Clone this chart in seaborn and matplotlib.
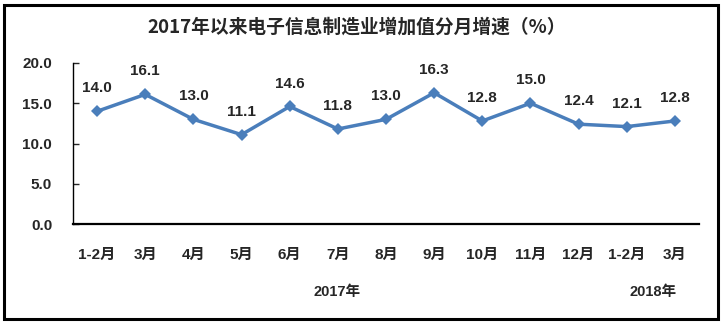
import pandas as pd
import matplotlib
matplotlib.use("Agg")
import matplotlib.pyplot as plt
import seaborn as sns
from matplotlib.patches import Rectangle

months = ["1-2月", "3月", "4月", "5月", "6月", "7月", "8月", "9月",
          "10月", "11月", "12月", "1-2月", "3月"]
growth = [14.0, 16.1, 13.0, 11.1, 14.6, 11.8, 13.0, 16.3, 12.8, 15.0, 12.4, 12.1, 12.8]
years = ["2017年", "2018年"]
yticks = [0, 5, 10, 15, 20]

sns.set_style("white")
plt.rcParams['font.family'] = ['Liberation Sans', 'Noto Sans CJK SC', 'DejaVu Sans']
plt.rcParams['font.weight'] = 'bold'

df = pd.DataFrame({"pos": range(len(months)), "growth": growth})

fig = plt.figure(figsize=(7.24, 3.24), dpi=100)
ax = fig.add_axes([73 / 724, 1 - 224 / 324, (699 - 73) / 724, (224 - 63) / 324])

sns.lineplot(data=df, x="pos", y="growth", ax=ax, color="#4A7EBB",
             linewidth=2.5, marker="D", markersize=6.5, markeredgewidth=0)

for x, v in zip(df["pos"], df["growth"]):
    ax.annotate(f"{v:.1f}", (x, v), xytext=(0, 16.5), textcoords="offset points",
                ha="center", va="center", fontsize=11, fontweight="bold")

ax.set_xlim(-0.5, len(months) - 0.5)
ax.set_ylim(0, 20)
ax.set_xticks(range(len(months)))
ax.set_xticklabels(months, fontsize=11, fontweight="bold")
ax.set_yticks(yticks)
ax.set_yticklabels([f"{t:.1f}" for t in yticks], fontsize=11, fontweight="bold")
ax.tick_params(axis="x", length=0, pad=17)
ax.tick_params(axis="y", direction="in", length=4, width=1, pad=15, left=True)
ax.set_xlabel("")
ax.set_ylabel("")

for s in ["top", "right"]:
    ax.spines[s].set_visible(False)
for s in ["left", "bottom"]:
    ax.spines[s].set_color("black")
    ax.spines[s].set_linewidth(1.0)
ax.spines["bottom"].set_linewidth(1.6)

fig.text(357 / 724, 1 - 27 / 324, "2017年以来电子信息制造业增加值分月增速（%）",
         ha="center", va="center", fontsize=13.5, fontweight="bold",
         family=['Noto Sans CJK SC', 'DejaVu Sans'])
fig.text(337 / 724, 1 - 292 / 324, years[0], ha="center", va="center",
         fontsize=10.5, fontweight="bold")
fig.text(653 / 724, 1 - 292 / 324, years[1], ha="center", va="center",
         fontsize=10.5, fontweight="bold")

fig.patches.append(Rectangle((4 / 724, 5 / 324), 714 / 724, 314 / 324,
                             transform=fig.transFigure, fill=False,
                             edgecolor="black", linewidth=2.2))

fig.savefig("out.png", dpi=100)
